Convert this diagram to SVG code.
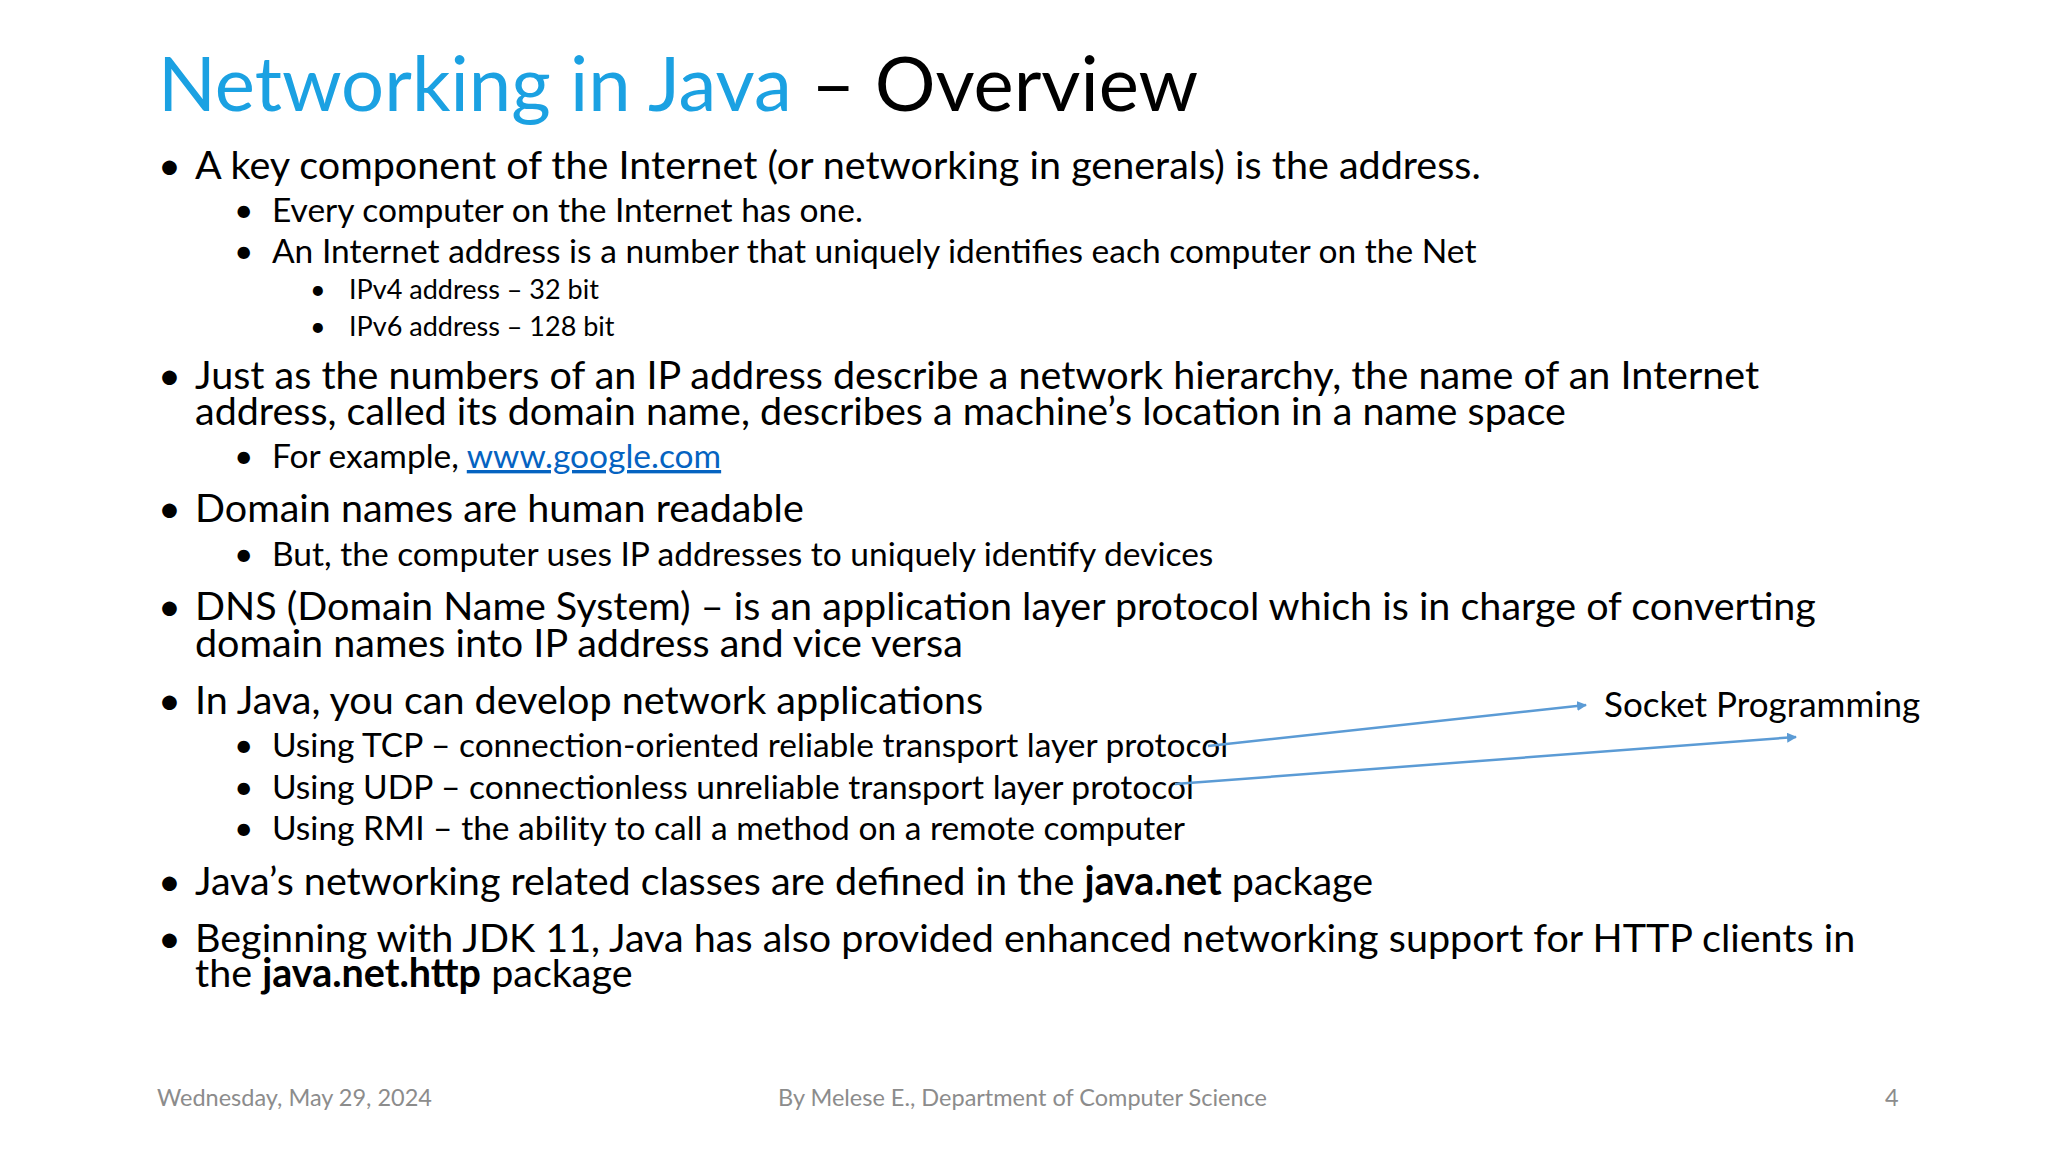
<svg xmlns="http://www.w3.org/2000/svg" width="2048" height="1152" viewBox="0 0 2048 1152">
<style>
text{font-family:Lato,"Open Sans",sans-serif;fill:#000}
.t{font-size:76px}
.l1{font-size:39.5px}
.l2{font-size:33.5px}
.l3{font-size:27px}
.s{font-size:35px}
.f{font-size:23.5px;fill:#8c8c8c}
.b{font-weight:bold}
.c{stroke:#5b9bd5;stroke-width:2.5;fill:none}
</style>
<defs><marker id="a" markerWidth="10" markerHeight="10" refX="9" refY="5" orient="auto" markerUnits="userSpaceOnUse"><path d="M0,0 L10,5 L0,10z" fill="#5b9bd5"/></marker></defs>
<rect width="2048" height="1152" fill="#fff"/>
<text x="158" y="111" class="t"><tspan fill="#1ba1e2">Networking in Java</tspan> – Overview</text>
<g id="body">
<text x="158" y="179" class="l1">•</text><text x="195" y="179" class="l1">A key component of the Internet (or networking in generals) is the address.</text>
<text x="234" y="222" class="l2">•</text><text x="272" y="222" class="l2">Every computer on the Internet has one.</text>
<text x="234" y="263" class="l2">•</text><text x="272" y="263" class="l2">An Internet address is a number that uniquely identifies each computer on the Net</text>
<text x="310" y="299" class="l3">•</text><text x="349" y="299" class="l3">IPv4 address – 32 bit</text>
<text x="310" y="336" class="l3">•</text><text x="349" y="336" class="l3">IPv6 address – 128 bit</text>
<text x="158" y="389" class="l1">•</text><text x="195" y="389" class="l1">Just as the numbers of an IP address describe a network hierarchy, the name of an Internet</text>
<text x="195" y="425" class="l1">address, called its domain name, describes a machine’s location in a name space</text>
<text x="234" y="468" class="l2">•</text><text x="272" y="468" class="l2">For example, <tspan fill="#0563c1" text-decoration="underline">www.google.com</tspan></text>
<text x="158" y="522" class="l1">•</text><text x="195" y="522" class="l1">Domain names are human readable</text>
<text x="234" y="566" class="l2">•</text><text x="272" y="566" class="l2">But, the computer uses IP addresses to uniquely identify devices</text>
<text x="158" y="620" class="l1">•</text><text x="195" y="620" class="l1">DNS (Domain Name System) – is an application layer protocol which is in charge of converting</text>
<text x="195" y="657" class="l1">domain names into IP address and vice versa</text>
<text x="158" y="714" class="l1">•</text><text x="195" y="714" class="l1">In Java, you can develop network applications</text>
<text x="234" y="757" class="l2">•</text><text x="272" y="757" class="l2">Using TCP – connection-oriented reliable transport layer protocol</text>
<text x="234" y="799" class="l2">•</text><text x="272" y="799" class="l2">Using UDP – connectionless unreliable transport layer protocol</text>
<text x="234" y="840" class="l2">•</text><text x="272" y="840" class="l2">Using RMI – the ability to call a method on a remote computer</text>
<text x="158" y="895" class="l1">•</text><text x="195" y="895" class="l1">Java’s networking related classes are defined in the <tspan class="b">java.net</tspan> package</text>
<text x="158" y="952" class="l1">•</text><text x="195" y="952" class="l1">Beginning with JDK 11, Java has also provided enhanced networking support for HTTP clients in</text>
<text x="195" y="987" class="l1">the <tspan class="b">java.net.http</tspan> package</text>
</g>
<g id="socket"><text x="1604" y="717" class="s">Socket Programming</text></g>
<g id="connectors">
<line x1="1208" y1="746" x2="1586" y2="705" class="c" marker-end="url(#a)"/>
<line x1="1175" y1="784" x2="1796" y2="737" class="c" marker-end="url(#a)"/>
</g>
<text x="157" y="1106" class="f">Wednesday, May 29, 2024</text>
<text x="778" y="1106" class="f">By Melese E., Department of Computer Science</text>
<text x="1885" y="1106" class="f">4</text>
</svg>
